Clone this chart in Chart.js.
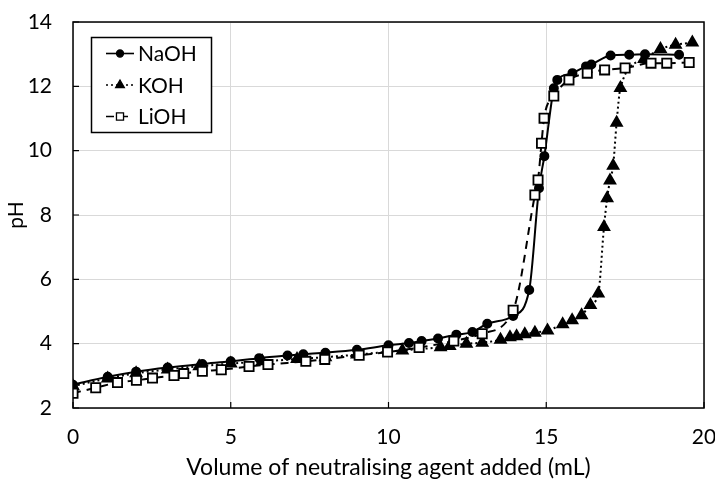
<!DOCTYPE html>
<html>
<head>
<meta charset="utf-8">
<script src="https://cdn.jsdelivr.net/npm/chart.js@4"></script>
<style>
  html, body { margin: 0; padding: 0; background: #fff; }
  #wrap { width: 715px; height: 484px; }
</style>
</head>
<body>
<div id="wrap"><canvas id="myChart" width="715" height="484"></canvas></div>
<script>
const seriesNames = ["NaOH", "KOH", "LiOH"];

const naohVol = [0, 1.1, 2.0, 3.0, 4.1, 5.0, 5.9, 6.8, 7.3, 8.0, 9.0, 10.0, 10.65, 11.05, 11.57, 12.15, 12.66, 13.13, 13.95, 14.46, 14.77, 14.94, 15.24, 15.35, 15.83, 16.26, 16.43, 17.04, 17.63, 18.13, 19.21];
const naohPH = [2.72, 2.97, 3.13, 3.26, 3.37, 3.45, 3.55, 3.63, 3.67, 3.72, 3.81, 3.95, 4.02, 4.08, 4.16, 4.28, 4.36, 4.62, 4.86, 5.67, 8.83, 9.83, 11.94, 12.2, 12.41, 12.62, 12.68, 12.96, 12.98, 13.0, 12.98];

const kohVol = [0, 1.1, 2.0, 3.0, 4.0, 5.0, 6.0, 7.1, 8.0, 9.0, 10.44, 11.65, 11.94, 12.47, 12.97, 13.55, 13.85, 14.06, 14.32, 14.64, 15.04, 15.52, 15.82, 16.12, 16.4, 16.65, 16.83, 16.93, 17.02, 17.12, 17.23, 17.35, 18.1, 18.62, 19.1, 19.63];
const kohPH = [2.68, 2.92, 3.08, 3.2, 3.3, 3.38, 3.45, 3.52, 3.58, 3.66, 3.79, 3.89, 3.93, 4.0, 4.03, 4.12, 4.2, 4.23, 4.29, 4.34, 4.41, 4.6, 4.73, 4.88, 5.2, 5.56, 7.63, 8.52, 9.07, 9.53, 10.87, 11.95, 12.85, 13.16, 13.29, 13.36];

const liohVol = [0, 0.72, 1.41, 2.01, 2.52, 3.2, 3.51, 4.1, 4.7, 5.58, 6.18, 7.38, 7.98, 9.07, 9.97, 10.97, 12.07, 12.97, 13.95, 14.64, 14.74, 14.85, 14.93, 15.24, 15.72, 16.3, 16.85, 17.5, 18.32, 18.82, 19.53];
const liohPH = [2.46, 2.63, 2.79, 2.86, 2.93, 3.01, 3.07, 3.14, 3.19, 3.29, 3.35, 3.45, 3.51, 3.64, 3.74, 3.88, 4.08, 4.31, 5.04, 8.62, 9.09, 10.23, 11.01, 11.7, 12.2, 12.41, 12.51, 12.57, 12.72, 12.72, 12.74];

const xTicks = [0, 5, 10, 15, 20];
const yTicks = [2, 4, 6, 8, 10, 12, 14];

const FONT = "Lato, 'Noto Sans', sans-serif";

function toPoints(xs, ys) {
  return xs.map((x, i) => ({ x: x, y: ys[i] }));
}

// frame round the plot area, inward ticks and the legend box
const framePlugin = {
  id: "frame",
  afterDraw(chart) {
    const ctx = chart.ctx;
    const a = chart.chartArea;
    const xs = chart.scales.x, ys = chart.scales.y;
    ctx.save();
    ctx.strokeStyle = "#000";
    ctx.lineWidth = 1.5;
    ctx.strokeRect(a.left, a.top, a.right - a.left, a.bottom - a.top);
    ctx.lineWidth = 1.2;
    ctx.beginPath();
    xTicks.forEach(v => {
      const px = xs.getPixelForValue(v);
      ctx.moveTo(px, a.bottom);
      ctx.lineTo(px, a.bottom - 6);
    });
    yTicks.forEach(v => {
      const py = ys.getPixelForValue(v);
      ctx.moveTo(a.left, py);
      ctx.lineTo(a.left + 6, py);
    });
    ctx.stroke();

    // legend
    const bx = 91.5, by = 37.5, bw = 120, bh = 95;
    ctx.fillStyle = "#fff";
    ctx.fillRect(bx, by, bw, bh);
    ctx.lineWidth = 1.5;
    ctx.strokeRect(bx, by, bw, bh);
    ctx.font = "21px " + FONT;
    ctx.textBaseline = "middle";
    ctx.textAlign = "left";
    chart.data.datasets.forEach((ds, i) => {
      const cy = 53.5 + i * 31.5;
      ctx.strokeStyle = "#000";
      ctx.lineWidth = 1.6;
      ctx.setLineDash(ds.borderDash || []);
      ctx.beginPath();
      ctx.moveTo(106, cy);
      ctx.lineTo(134, cy);
      ctx.stroke();
      ctx.setLineDash([]);
      ctx.fillStyle = ds.pointBackgroundColor;
      ctx.lineWidth = 1.3;
      Chart.helpers.drawPoint(ctx, {
        pointStyle: ds.pointStyle, radius: ds.legendRadius, borderWidth: 1.3
      }, 120, cy);
      ctx.fillStyle = "#000";
      ctx.fillText(ds.label, 138, cy + 1);
    });
    ctx.restore();
  }
};

const ctx1 = document.getElementById("myChart");

const titrationChart = new Chart(ctx1, {
  type: "line",
  data: {
    datasets: [
      {
        label: seriesNames[0],
        data: toPoints(naohVol, naohPH),
        borderColor: "#000",
        borderWidth: 2,
        pointStyle: "circle",
        pointRadius: 4,
        legendRadius: 3.5,
        pointBackgroundColor: "#000",
        pointBorderColor: "#000",
        cubicInterpolationMode: "monotone",
        order: 3,
      },
      {
        label: seriesNames[1],
        data: toPoints(kohVol, kohPH),
        borderColor: "#000",
        borderWidth: 2,
        borderDash: [2, 3],
        pointStyle: "triangle",
        pointRadius: 6,
        legendRadius: 5,
        pointBackgroundColor: "#000",
        pointBorderColor: "#000",
        cubicInterpolationMode: "monotone",
        order: 2,
      },
      {
        label: seriesNames[2],
        data: toPoints(liohVol, liohPH),
        borderColor: "#000",
        borderWidth: 2,
        borderDash: [8, 6],
        pointStyle: "rect",
        pointRadius: 6.5,
        pointBorderWidth: 1.8,
        legendRadius: 5,
        pointBackgroundColor: "#fff",
        pointBorderColor: "#000",
        cubicInterpolationMode: "monotone",
        order: 1,
      },
    ],
  },
  options: {
    responsive: false,
    animation: false,
    events: [],
    layout: { padding: { top: 22, right: 11, left: 0, bottom: 0 } },
    plugins: {
      legend: { display: false },
      tooltip: { enabled: false },
    },
    scales: {
      x: {
        type: "linear",
        min: 0,
        max: 20,
        afterBuildTicks: (s) => { s.ticks = xTicks.map(v => ({ value: v })); },
        afterFit: (s) => {
          s.height = 76;
          s.paddingLeft = 0;
          s.paddingRight = 0;
        },
        grid: { color: "#d9d9d9", lineWidth: 1, drawTicks: false },
        border: { display: false },
        ticks: { color: "#000", padding: 17, font: { family: FONT, size: 21 } },
        title: {
          display: true,
          text: "Volume of neutralising agent added (mL)",
          color: "#000",
          font: { family: FONT, size: 23 },
          padding: { top: 4, bottom: 3 },
        },
      },
      y: {
        type: "linear",
        min: 2,
        max: 14,
        afterBuildTicks: (s) => { s.ticks = yTicks.map(v => ({ value: v })); },
        afterFit: (s) => {
          s.width = 73;
          s.paddingTop = 0;
          s.paddingBottom = 0;
        },
        grid: { color: "#d9d9d9", lineWidth: 1, drawTicks: false },
        border: { display: false },
        ticks: { color: "#000", padding: 21, font: { family: FONT, size: 21 } },
        title: {
          display: true,
          text: "pH",
          color: "#000",
          font: { family: FONT, size: 21 },
          padding: { top: 4, bottom: 4 },
        },
      },
    },
  },
  plugins: [framePlugin],
});
</script>
</body>
</html>
